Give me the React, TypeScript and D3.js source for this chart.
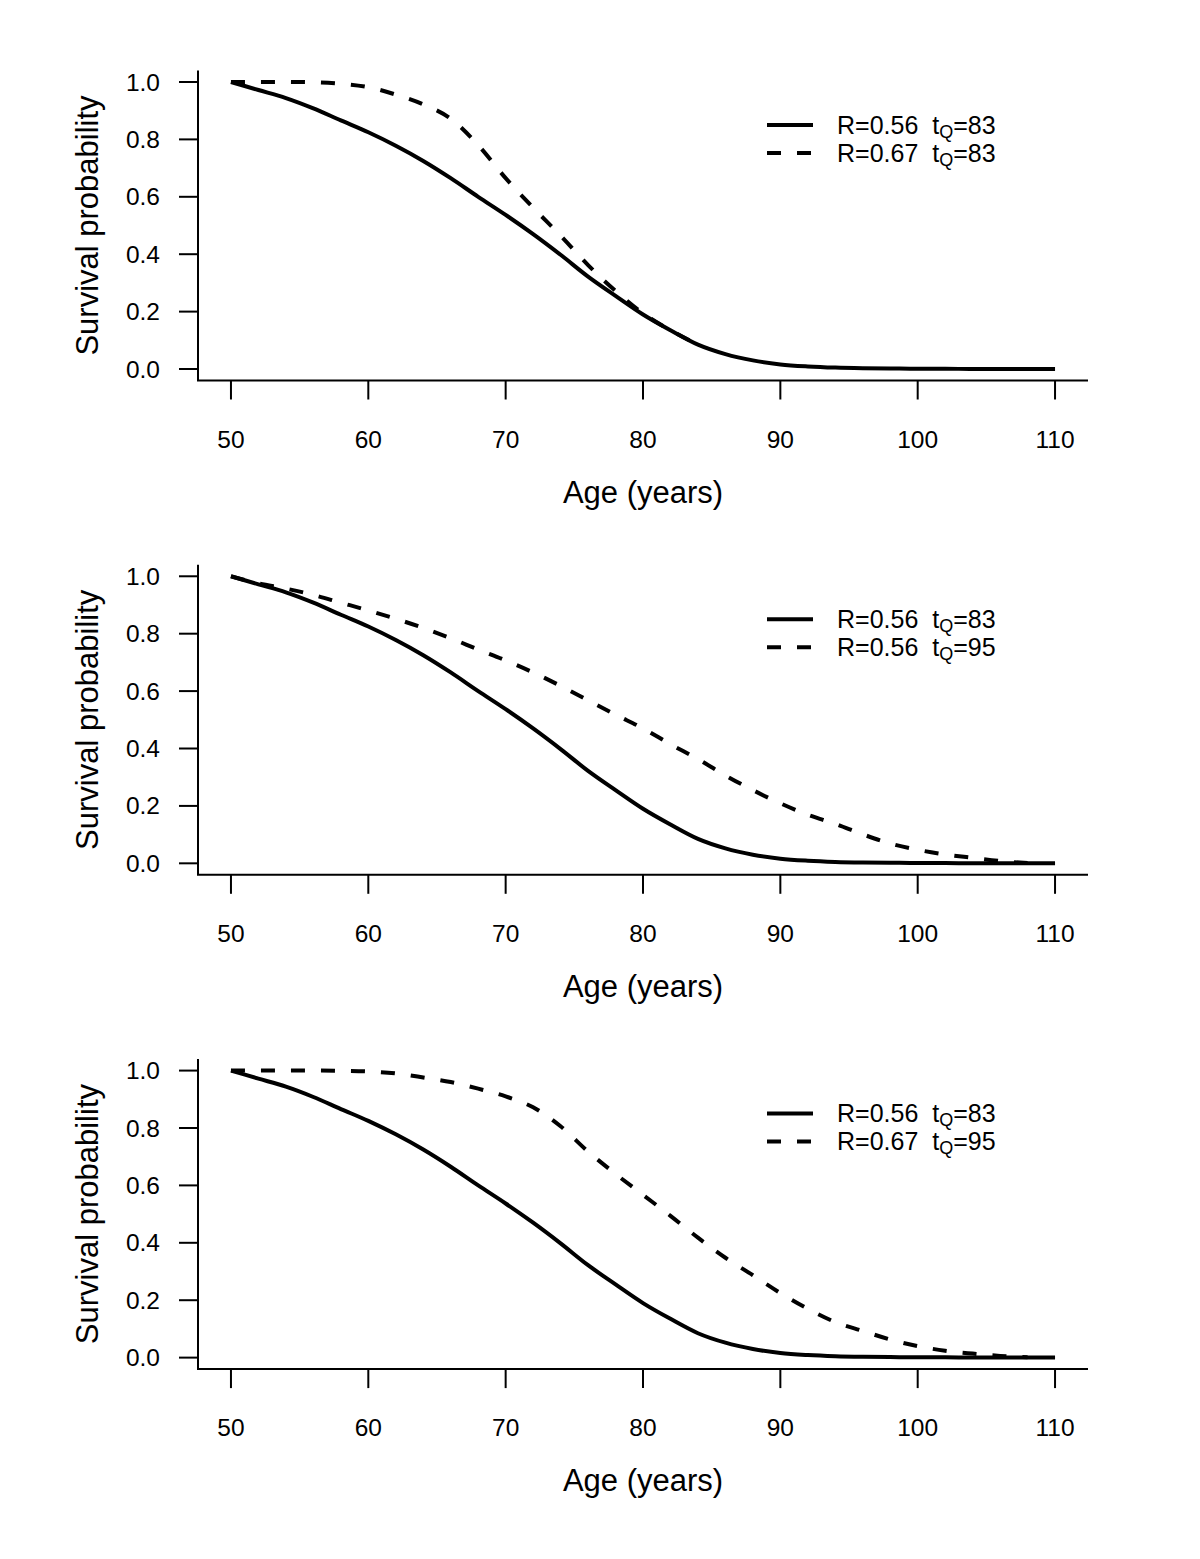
import React from 'react';
import * as d3 from 'd3';

// ages shared by the reference curve (R=0.56, tQ=83)
const AGES = [
  50, 52, 54, 56, 58, 60, 62, 64, 66, 68, 70, 72, 74, 76, 78, 80, 82, 84, 86, 88,
  90, 92, 94, 96, 98, 100, 102, 104, 106, 108, 110,
];
const SURV_R056_T83 = [
  1.0, 0.972, 0.944, 0.908, 0.866, 0.825, 0.778, 0.725, 0.665, 0.6, 0.537, 0.47,
  0.398, 0.322, 0.255, 0.19, 0.135, 0.085, 0.052, 0.03, 0.016, 0.009, 0.005,
  0.003, 0.002, 0.001, 0.001, 0, 0, 0, 0,
];

// R=0.67, tQ=83 (merges with the reference curve past ~82)
const AGES_R067_T83 = [50, 52, 54, 56, 58, 60, 62, 64, 66, 68, 70, 72, 74, 76, 78, 80, 82, 84];
const SURV_R067_T83 = [
  1.0, 1.0, 1.0, 0.999, 0.994, 0.982, 0.956, 0.922, 0.872, 0.78, 0.665, 0.562,
  0.465, 0.362, 0.272, 0.194, 0.135, 0.085,
];

// curves with tQ=95 stop at about 108 years
const AGES_T95 = [
  50, 52, 54, 56, 58, 60, 62, 64, 66, 68, 70, 72, 74, 76, 78, 80, 82, 84, 86, 88,
  90, 92, 94, 96, 98, 100, 102, 104, 106, 108,
];
const SURV_R056_T95 = [
  1.0, 0.975, 0.957, 0.935, 0.908, 0.881, 0.852, 0.82, 0.784, 0.745, 0.707, 0.665,
  0.618, 0.568, 0.518, 0.47, 0.415, 0.363, 0.306, 0.255, 0.209, 0.169, 0.137,
  0.101, 0.069, 0.047, 0.031, 0.019, 0.008, 0.001,
];
const SURV_R067_T95 = [
  1.0, 1.0, 1.0, 1.0, 0.999, 0.997, 0.99, 0.976, 0.96, 0.937, 0.91, 0.872, 0.806,
  0.718, 0.64, 0.567, 0.494, 0.418, 0.348, 0.287, 0.225, 0.17, 0.124, 0.093,
  0.063, 0.04, 0.024, 0.014, 0.006, 0.001,
];

const X_TICKS = [50, 60, 70, 80, 90, 100, 110];
const Y_TICKS = [0, 0.2, 0.4, 0.6, 0.8, 1.0];

interface Panel {
  dashedAges: number[];
  dashedValues: number[];
  legend: [string, string][]; // [R, tQ]
}

const PANELS: Panel[] = [
  { dashedAges: AGES_R067_T83, dashedValues: SURV_R067_T83, legend: [['0.56', '83'], ['0.67', '83']] },
  { dashedAges: AGES_T95, dashedValues: SURV_R056_T95, legend: [['0.56', '83'], ['0.56', '95']] },
  { dashedAges: AGES_T95, dashedValues: SURV_R067_T95, legend: [['0.56', '83'], ['0.67', '95']] },
];

const WIDTH = 1200;
const HEIGHT = 1559;
const FONT = '"Liberation Sans", Arial, Helvetica, sans-serif';
const DASH = '14 16';

const PLOT_LEFT = 198;
const PLOT_RIGHT = 1088;
const PLOT_H = 310;
const FIRST_TOP = 70.5;
const PANEL_STEP = 494.3;

const x = d3.scaleLinear().domain([47.6, 112.4]).range([PLOT_LEFT, PLOT_RIGHT]);

const line = (ages: number[], values: number[], y: d3.ScaleLinear<number, number>) =>
  d3
    .line<number>()
    .x((_, i) => x(ages[i]))
    .y(d => y(d))
    .curve(d3.curveMonotoneX)(values) || '';

const PanelView: React.FC<{ panel: Panel; index: number }> = ({ panel, index }) => {
  const top = FIRST_TOP + index * PANEL_STEP;
  const bottom = top + PLOT_H;
  const y = d3.scaleLinear().domain([-0.04, 1.04]).range([bottom, top]);

  return (
    <g>
      {/* axes, bty="l" */}
      <path
        d={`M${PLOT_LEFT},${top}V${bottom}H${PLOT_RIGHT}`}
        fill="none"
        stroke="#000"
        strokeWidth={2}
      />
      {Y_TICKS.map(t => (
        <g key={t}>
          <line x1={PLOT_LEFT - 19} x2={PLOT_LEFT} y1={y(t)} y2={y(t)} stroke="#000" strokeWidth={2} />
          <text x={160} y={y(t)} dy="0.35em" textAnchor="end" fontSize={24.5}>
            {t.toFixed(1)}
          </text>
        </g>
      ))}
      {X_TICKS.map(t => (
        <g key={t}>
          <line x1={x(t)} x2={x(t)} y1={bottom} y2={bottom + 19} stroke="#000" strokeWidth={2} />
          <text x={x(t)} y={bottom + 67} textAnchor="middle" fontSize={24.5}>
            {t}
          </text>
        </g>
      ))}
      <text x={(x(50) + x(110)) / 2} y={bottom + 122} textAnchor="middle" fontSize={31}>
        Age (years)
      </text>
      <text
        transform={`translate(98, ${(top + bottom) / 2}) rotate(-90)`}
        textAnchor="middle"
        fontSize={31}
      >
        Survival probability
      </text>

      {/* curves */}
      <path
        d={line(AGES, SURV_R056_T83, y)}
        fill="none"
        stroke="#000"
        strokeWidth={4}
        strokeLinejoin="round"
      />
      <path
        d={line(panel.dashedAges, panel.dashedValues, y)}
        fill="none"
        stroke="#000"
        strokeWidth={4}
        strokeDasharray={DASH}
      />

      {/* legend */}
      {panel.legend.map(([r, tq], i) => {
        const ly = top + 54.5 + i * 28;
        return (
          <g key={i}>
            <line
              x1={767}
              x2={813}
              y1={ly}
              y2={ly}
              stroke="#000"
              strokeWidth={4}
              strokeDasharray={i === 0 ? undefined : DASH}
            />
            <text x={837} y={ly + 8.5} fontSize={25} xmlSpace="preserve">
              {`R=${r}  t`}
              <tspan fontSize={18} dy={4}>
                Q
              </tspan>
              <tspan dy={-4}>{`=${tq}`}</tspan>
            </text>
          </g>
        );
      })}
    </g>
  );
};

const App: React.FC = () => (
  <svg
    width={WIDTH}
    height={HEIGHT}
    style={{ position: 'absolute', left: 0, top: 0, background: '#fff' }}
    fontFamily={FONT}
  >
    <rect width={WIDTH} height={HEIGHT} fill="#fff" />
    {PANELS.map((p, i) => (
      <PanelView key={i} panel={p} index={i} />
    ))}
  </svg>
);

export default App;
